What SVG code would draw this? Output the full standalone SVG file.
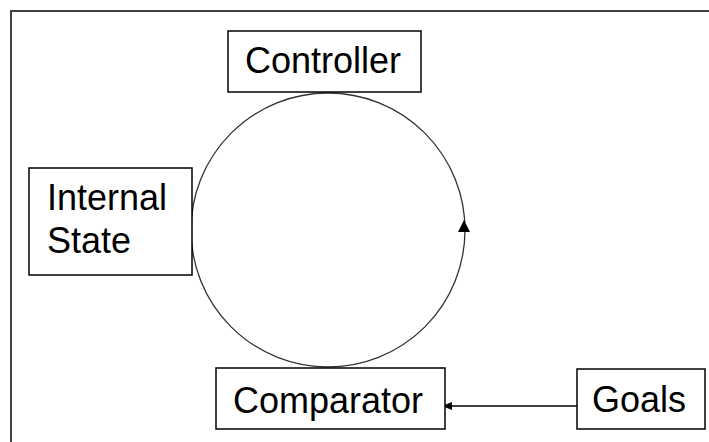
<svg xmlns="http://www.w3.org/2000/svg" width="709" height="442" viewBox="0 0 709 442">
<style>
.box{fill:#ffffff;stroke:#000000;stroke-width:1.5}
.lbl{font-family:"Liberation Sans",Arial,sans-serif;font-size:36px;fill:#000000}
.conn{fill:none;stroke:#000000;stroke-width:1.5}
</style>
<defs>
<marker id="ah" markerWidth="10" markerHeight="8" refX="10" refY="4" orient="auto" markerUnits="userSpaceOnUse">
<path d="M0,0 L10,4 L0,8 Z" fill="#000000"/>
</marker>
</defs>
<rect x="0" y="0" width="709" height="442" fill="#ffffff"/>
<path d="M11,460 L11,11 L720,11" fill="none" stroke="#404040" stroke-width="2"/>
<g id="connectors">
<circle cx="328" cy="230" r="137" fill="none" stroke="#333333" stroke-width="1.3"/>
<path d="M464,220 L470,232 L458,232 Z" fill="#000000"/>
<line x1="577" y1="406" x2="442" y2="406" class="conn" marker-end="url(#ah)"/>
</g>
<g id="controller">
<rect x="228" y="31" width="193" height="61" class="box"/>
<text x="245" y="73" class="lbl">Controller</text>
</g>
<g id="internal-state">
<rect x="29" y="168" width="163" height="107" class="box"/>
<text x="47" y="210" class="lbl">Internal</text>
<text x="47" y="253" class="lbl">State</text>
</g>
<g id="comparator">
<rect x="216" y="368" width="229" height="61" class="box"/>
<text x="233" y="413" class="lbl">Comparator</text>
</g>
<g id="goals">
<rect x="577" y="369" width="128" height="60" class="box"/>
<text x="592" y="412" class="lbl">Goals</text>
</g>
</svg>
